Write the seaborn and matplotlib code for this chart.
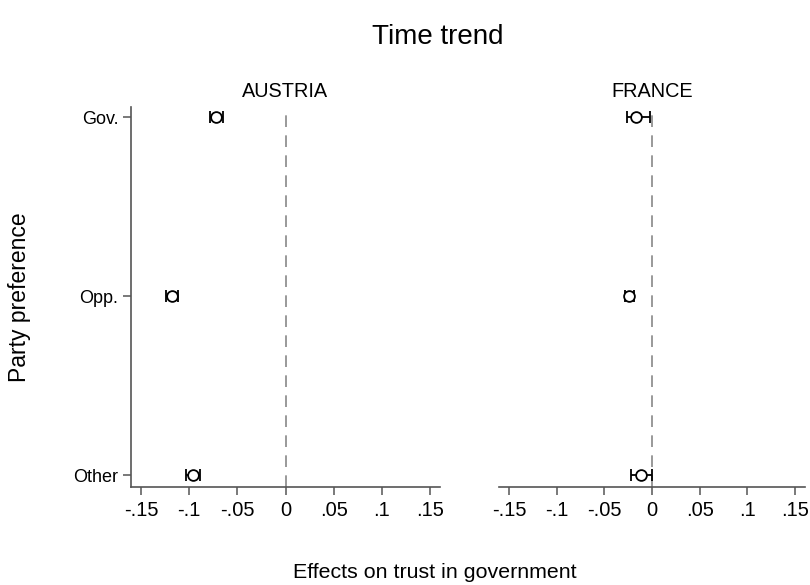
import matplotlib
matplotlib.use("Agg")
import matplotlib.pyplot as plt
import seaborn as sns
import pandas as pd

# Estimated effects and 95% confidence intervals by party preference
groups = ["Gov.", "Opp.", "Other"]
countries = ["AUSTRIA", "FRANCE"]
austria_est = [-0.0726, -0.118, -0.0965]
austria_lo = [-0.078, -0.124, -0.103]
austria_hi = [-0.065, -0.112, -0.089]
france_est = [-0.0166, -0.024, -0.0114]
france_lo = [-0.026, -0.028, -0.022]
france_hi = [-0.002, -0.019, -0.0005]
xticks = [-0.15, -0.1, -0.05, 0, 0.05, 0.1, 0.15]
xticklabels = ["-.15", "-.1", "-.05", "0", ".05", ".1", ".15"]

rows = []
for c, est, lo, hi in [("AUSTRIA", austria_est, austria_lo, austria_hi),
                       ("FRANCE", france_est, france_lo, france_hi)]:
    for i, g in enumerate(groups):
        rows.append(dict(country=c, group=g, pos=i, est=est[i], lo=lo[i], hi=hi[i]))
df = pd.DataFrame(rows)

sns.set_theme(style="white")
plt.rcParams["font.family"] = ["Liberation Sans", "DejaVu Sans"]
plt.rcParams["text.color"] = "black"
plt.rcParams["xtick.labelcolor"] = "black"
plt.rcParams["ytick.labelcolor"] = "black"

axis_col = "#555555"
fig = plt.figure(figsize=(8.1, 5.85), dpi=100)
ax_a = fig.add_axes([131 / 810, 1 - 487 / 585, 309 / 810, 380 / 585])
ax_f = fig.add_axes([499 / 810, 1 - 487 / 585, 306 / 810, 380 / 585])

for ax, c in [(ax_a, "AUSTRIA"), (ax_f, "FRANCE")]:
    d = df[df.country == c]
    ax.axvline(0, color="#888888", lw=1.2, ls=(0, (7, 5)), zorder=1)
    ax.errorbar(d.est, d.pos, xerr=[d.est - d.lo, d.hi - d.est], fmt="none",
                ecolor="black", elinewidth=1.3, capsize=4.5, capthick=1.3, zorder=2)
    sns.scatterplot(data=d, x="est", y="pos", ax=ax, marker="o", s=60,
                    facecolor="white", edgecolor="black", linewidth=1.3, zorder=3)
    ax.set_xlim(-0.1604, 0.1604)
    ax.set_ylim(2.067, -0.056)
    ax.set_xticks(xticks)
    ax.set_xticklabels(xticklabels)
    ax.set_xlabel("")
    ax.set_ylabel("")
    ax.set_title(c, fontsize=14.3, pad=7, color="black")
    for s in ["top", "right"]:
        ax.spines[s].set_visible(False)
    ax.spines["bottom"].set_color(axis_col)
    ax.spines["bottom"].set_linewidth(1.2)
    ax.spines["left"].set_color(axis_col)
    ax.spines["left"].set_linewidth(1.2)
    ax.tick_params(axis="x", bottom=True, direction="out", length=6, width=1.1,
                   color=axis_col, labelsize=14.5, pad=4)
    ax.grid(False)

ax_a.set_yticks(range(len(groups)))
ax_a.set_yticklabels(groups)
ax_a.tick_params(axis="y", left=True, direction="out", length=6, width=1.1,
                 color=axis_col, labelsize=13, pad=3)
ax_f.spines["left"].set_visible(False)
ax_f.set_yticks([])

fig.text(438 / 810, 1 - 37 / 585, "Time trend", ha="center", va="center", fontsize=20)
fig.text(435 / 810, 1 - 572 / 585, "Effects on trust in government",
         ha="center", va="center", fontsize=15.4)
fig.text(20 / 810, 1 - 297 / 585, "Party preference", ha="center", va="center",
         rotation=90, fontsize=16.5)

fig.savefig("out.png", dpi=100, facecolor="white")
